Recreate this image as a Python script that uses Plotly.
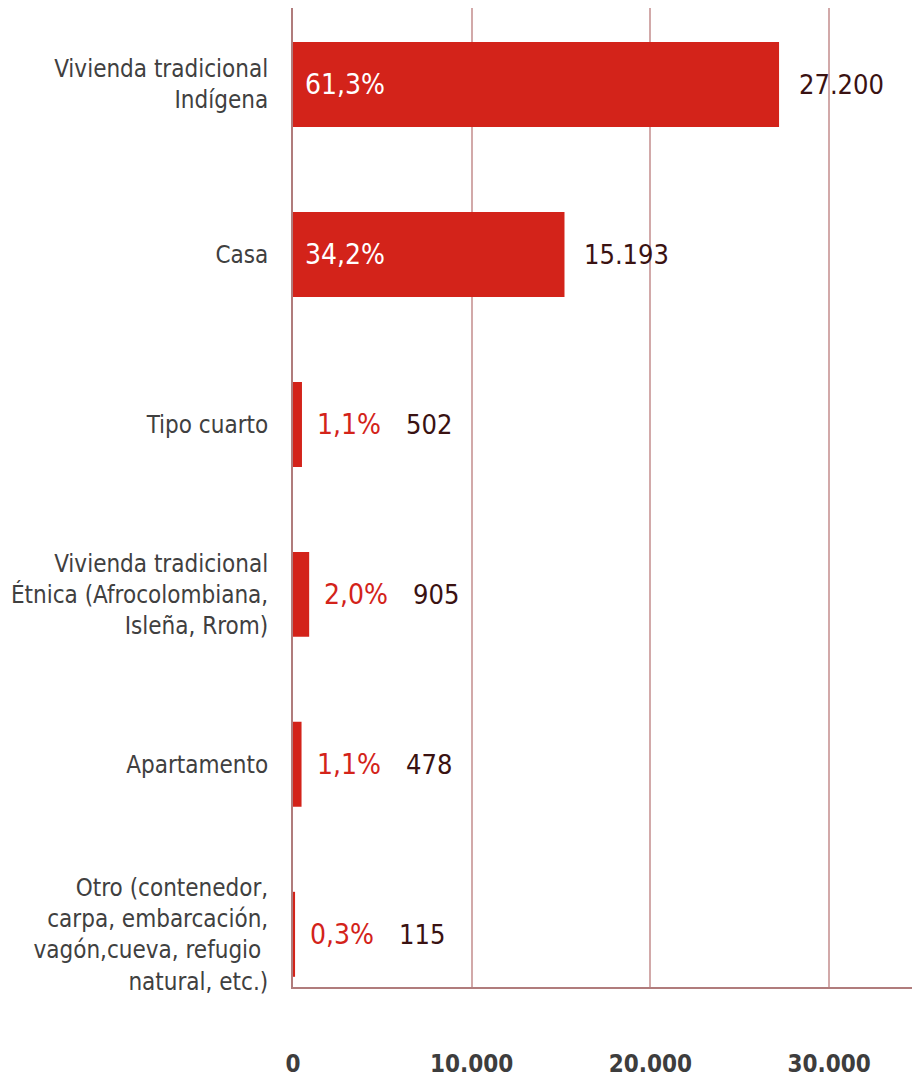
import plotly.graph_objects as go

categorias = [
    'Vivienda tradicional<br>Indígena',
    'Casa',
    'Tipo cuarto',
    'Vivienda tradicional<br>Étnica (Afrocolombiana,<br>Isleña, Rrom)',
    'Apartamento',
    'Otro (contenedor,<br>carpa, embarcación,<br>vagón,cueva, refugio <br>natural, etc.)',
]
hogares = [27200, 15193, 502, 905, 478, 115]
porcentajes = [61.3, 34.2, 1.1, 2.0, 1.1, 0.3]

rojo = '#d3231a'
fuente = 'Liberation Sans Narrow, DejaVu Sans Condensed, Roboto, sans-serif'

def miles(v):
    return f'{v:,}'.replace(',', '.')

def pct(p):
    return f'{p:.1f}%'.replace('.', ',')

fig = go.Figure(go.Bar(
    y=categorias,
    x=hogares,
    orientation='h',
    width=0.5,
    marker=dict(color=rojo, line=dict(width=0)),
    hoverinfo='skip',
))

anotaciones = []
for cat, v, p in zip(categorias, hogares, porcentajes):
    grande = p > 10
    anotaciones.append(dict(
        x=0 if grande else v, y=cat, xref='x', yref='y',
        text=pct(p), showarrow=False, xanchor='left',
        xshift=10 if grande else 13,
        font=dict(family=fuente, size=28, color='white' if grande else rojo),
    ))
    anotaciones.append(dict(
        x=v, y=cat, xref='x', yref='y',
        text=miles(v), showarrow=False, xanchor='left',
        xshift=18 if grande else 102,
        font=dict(family=fuente, size=27, color='#3a1212'),
    ))

fig.update_layout(
    width=912, height=1078,
    paper_bgcolor='white', plot_bgcolor='white',
    margin=dict(l=293, r=0, t=8, b=88),
    separators=',.',
    showlegend=False,
    bargap=0.5,
    annotations=anotaciones,
    font=dict(family=fuente),
)

fig.update_xaxes(
    range=[0, 34640],
    tickvals=[0, 10000, 20000, 30000],
    tickformat=',d',
    showgrid=True, gridcolor='#d2a9a9', gridwidth=1.5,
    showline=True, linecolor='#b07c7c', linewidth=2,
    zeroline=False,
    ticks='', ticklabelstandoff=54,
    tickfont=dict(family=fuente, size=24, color='#3d3d3d', weight='bold'),
)

fig.update_yaxes(
    range=[5.31, -0.45],
    showgrid=False,
    showline=True, linecolor='#b07c7c', linewidth=2,
    ticks='', ticklabelstandoff=18,
    tickfont=dict(family=fuente, size=24, color='#404040'),
)

fig.write_html('out.html', config={'displayModeBar': False},
               post_script="document.body.style.margin='0';")
